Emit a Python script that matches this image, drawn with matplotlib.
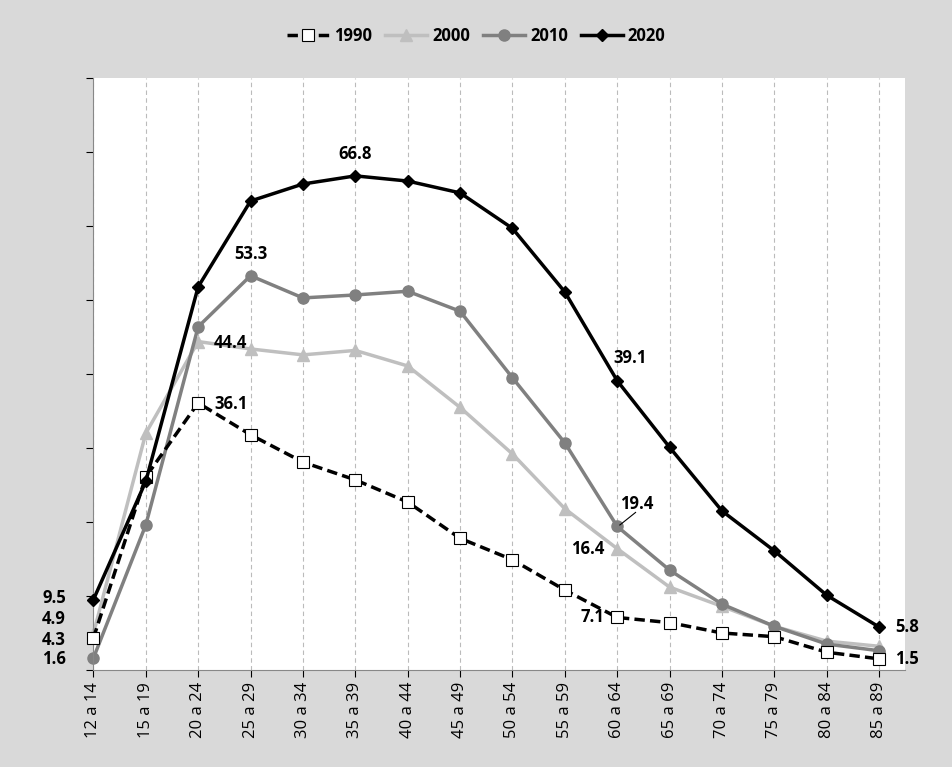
import numpy as np
import matplotlib.pyplot as plt

groups = ["12 a 14", "15 a 19", "20 a 24", "25 a 29", "30 a 34", "35 a 39", "40 a 44", "45 a 49",
          "50 a 54", "55 a 59", "60 a 64", "65 a 69", "70 a 74", "75 a 79", "80 a 84", "85 a 89"]
y1990 = [4.3, 26.1, 36.1, 31.8, 28.1, 25.7, 22.7, 17.8, 14.9, 10.8, 7.1, 6.4, 5.0, 4.5, 2.4, 1.5]
y2000 = [4.9, 32.0, 44.4, 43.4, 42.6, 43.2, 41.1, 35.5, 29.2, 21.8, 16.4, 11.2, 8.6, 5.9, 3.9, 3.2]
y2010 = [1.6, 19.6, 46.4, 53.3, 50.3, 50.7, 51.2, 48.5, 39.5, 30.7, 19.4, 13.5, 8.9, 5.9, 3.5, 2.6]
y2020 = [9.5, 25.5, 51.8, 63.4, 65.7, 66.8, 66.1, 64.5, 59.7, 51.1, 39.1, 30.1, 21.5, 16.1, 10.1, 5.8]

plt.rcParams['font.family'] = ['Open Sans', 'DejaVu Sans']
fig = plt.figure(figsize=(9.53, 7.67), dpi=100, facecolor='#d9d9d9')
ax = fig.add_axes([0.098, 0.1265, 0.852, 0.7715])
x = np.arange(len(groups))

for xi in x:
    ax.axvline(xi, color='#bbbbbb', lw=0.8, ls=(0, (4, 3)), zorder=0)

ax.plot(x, y1990, color='black', lw=2.5, ls=(0, (3, 1.5)), marker='s', ms=8,
        mfc='white', mec='black', mew=0.8, label='1990', zorder=3, clip_on=False)
ax.plot(x, y2000, color='#bfbfbf', lw=2.5, marker='^', ms=8, label='2000', zorder=2, clip_on=False)
ax.plot(x, y2010, color='#808080', lw=2.5, marker='o', ms=8, label='2010', zorder=2, clip_on=False)
ax.plot(x, y2020, color='black', lw=2.5, marker='D', ms=6, label='2020', zorder=4, clip_on=False)

kw = dict(fontsize=12, fontweight='bold')
ax.text(-0.75, 9.7, "9.5", ha='center', va='center', **kw)
ax.text(-0.75, 6.9, "4.9", ha='center', va='center', **kw)
ax.text(-0.75, 4.1, "4.3", ha='center', va='center', **kw)
ax.text(-0.75, 1.5, "1.6", ha='center', va='center', **kw)
ax.text(15.3, 5.8, "5.8", ha='left', va='center', **kw)
ax.text(15.3, 1.5, "1.5", ha='left', va='center', **kw)
ax.text(2.3, 35.9, "36.1", ha='left', va='center', **kw)
ax.text(2.3, 44.2, "44.4", ha='left', va='center', **kw)
ax.text(3, 56.2, "53.3", ha='center', va='center', **kw)
ax.text(5, 69.7, "66.8", ha='center', va='center', **kw)
ax.text(10.25, 42.2, "39.1", ha='center', va='center', **kw)
ax.text(10.05, 22.4, "19.4", ha='left', va='center', **kw)
ax.plot([10.05, 10.35], [19.6, 21.3], color='black', lw=0.8)
ax.text(9.75, 16.4, "16.4", ha='right', va='center', **kw)
ax.text(9.75, 7.1, "7.1", ha='right', va='center', **kw)

ax.set_xlim(0, 15.5)
ax.set_ylim(0, 80)
ax.set_yticks(np.arange(0, 81, 10))
ax.set_yticklabels([])
ax.tick_params(axis='y', direction='out', length=5)
ax.set_xticks(x)
ax.set_xticklabels(groups, rotation=90, fontsize=12)
ax.tick_params(axis='x', direction='out', length=5)
for s in ['top', 'right']:
    ax.spines[s].set_visible(False)
ax.spines['left'].set_color('#888888')
ax.spines['bottom'].set_color('#888888')

fig.legend(loc='upper center', bbox_to_anchor=(0.5, 0.985), ncol=4, frameon=False,
           prop={'weight': 'bold', 'size': 12}, handlelength=2.5, columnspacing=0.8,
           handletextpad=0.3)
fig.savefig('out.png', dpi=100, facecolor=fig.get_facecolor())
